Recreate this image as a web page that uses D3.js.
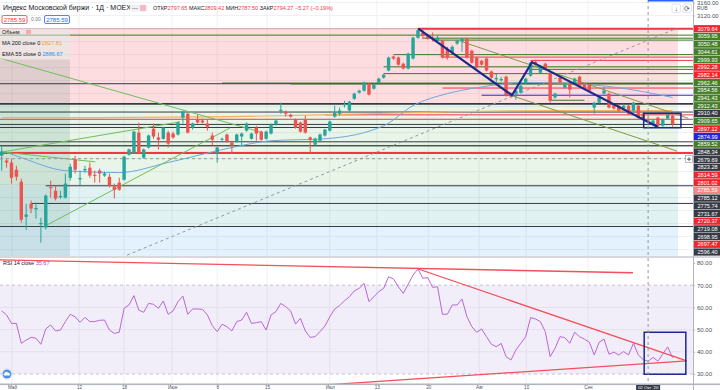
<!DOCTYPE html>
<html>
<head>
<meta charset="utf-8">
<script src="https://cdn.jsdelivr.net/npm/d3@7/dist/d3.min.js"></script>
<style>
  body { margin: 0; background: #fff; overflow: hidden; }
  svg { display: block; font-family: "Liberation Sans", Arial, sans-serif; }
</style>
</head>
<body>
<svg id="chart" width="720" height="390"></svg>
<script>
// ---- candles (daily, MOEX index) ----
const opens = [2689,2674,2668,2646,2609,2501,2541,2524,2478,2468,2592,2581,2561,2560,2621,2677,2616,2644,2652,2630,
  2643,2628,2624,2594,2606,2615,2692,2698,2760,2683,2714,2772,2745,2741,2760,2757,2754,2806,2818,2775,
  2800,2797,2788,2751,2698,2738,2754,2729,2732,2748,2766,2741,2775,2763,2741,2757,2785,2826,2824,2815,
  2800,2791,2800,2745,2723,2735,2751,2766,2809,2818,2844,2828,2864,2883,2889,2911,2895,2914,2929,2951,
  2994,2991,2972,2957,2988,3052,3068,3058,3050,3043,3043,3018,3006,3034,3040,3049,3012,2991,2981,2988,
  2948,2924,2921,2932,2880,2880,2883,2914,2935,2978,2944,2972,2944,2868,2929,2898,2911,2911,2932,2908,
  2908,2837,2852,2880,2880,2846,2843,2834,2843,2828,2843,2818,2797.65,2785,2806,2781,2803,2812];
const highs = [2720,2680,2680,2658,2618,2541,2551,2545,2498,2570,2612,2597,2581,2634,2664,2689,2643,2658,2668,2643,
  2649,2640,2634,2603,2621,2689,2711,2766,2791,2711,2754,2788,2760,2778,2766,2763,2794,2828,2821,2791,
  2815,2803,2800,2760,2717,2745,2757,2735,2757,2760,2791,2760,2781,2766,2766,2788,2800,2852,2828,2818,
  2803,2794,2812,2748,2745,2757,2772,2797,2843,2837,2858,2858,2883,2892,2917,2914,2911,2929,2941,2994,
  2997,2994,2975,3006,3055,3079.64,3077,3062,3068,3058,3046,3024,3028,3046,3052,3052,3015,2994,2984,2991,
  2951,2941,2932,2935,2883,2892,2908,2929,2978,2984,2969,2975,2948,2883,2935,2914,2914,2929,2935,2911,
  2911,2855,2871,2901,2883,2849,2846,2849,2846,2855,2846,2821,2809.42,2800,2809,2803,2818,2815];
const lows = [2643,2652,2603,2612,2483,2461,2512,2495,2421,2462,2560,2551,2557,2557,2612,2634,2597,2637,2621,2606,
  2606,2624,2591,2557,2581,2612,2689,2695,2695,2680,2711,2741,2708,2738,2714,2741,2751,2788,2757,2769,
  2788,2788,2766,2720,2668,2735,2729,2695,2729,2720,2763,2738,2735,2735,2738,2754,2781,2818,2809,2806,
  2772,2760,2757,2698,2720,2732,2748,2763,2806,2812,2837,2824,2861,2880,2886,2874,2892,2911,2926,2948,
  2984,2966,2954,2954,2985,3049,3049,3046,3040,3040,2988,2984,3003,3030,3009,2988,2972,2957,2966,2948,
  2926,2911,2917,2871,2867,2861,2880,2911,2932,2966,2941,2954,2852,2864,2911,2895,2868,2908,2901,2892,
  2886,2818,2849,2877,2834,2831,2824,2831,2815,2824,2803,2797,2787.50,2781,2778,2778,2800,2778];
const closes = [2701,2668,2621,2624,2492,2508,2526,2528,2482,2566,2589,2557,2565,2603,2655,2646,2620,2648,2628,2627,
  2634,2634,2597,2584,2584,2686,2708,2763,2698,2708,2751,2748,2738,2775,2726,2745,2791,2824,2760,2788,
  2791,2791,2778,2738,2714,2741,2732,2720,2754,2757,2788,2757,2757,2738,2763,2785,2797,2830,2818,2809,
  2775,2763,2760,2738,2741,2754,2769,2794,2821,2828,2848,2855,2880,2889,2914,2877,2908,2926,2938,2991,
  2988,2969,2957,3003,3052,3075,3058,3049,3047,3052,2991,2991,3024,3043,3049,2991,2975,2960,2969,2951,
  2929,2928,2925,2874,2871,2889,2904,2926,2975,2969,2966,2957,2858,2880,2914,2911,2892,2926,2904,2895,
  2889,2852,2868,2889,2837,2834,2828,2843,2818,2852,2806,2800,2794.27,2797,2781,2800,2815,2785.59];

// ---- moving averages, sampled at candle index ----
const ma200 = [[1,2806],[21,2806],[48,2809],[68,2815],[92,2824],[115,2828],[138,2828]];
const ema55 = [[1,2704],[5,2683],[14,2643],[25,2637],[35,2668],[48,2714],[56,2735],[67,2741],[79,2781],
  [85,2843],[92,2880],[98,2898],[108,2914],[117,2911],[127,2898],[132,2886],[138,2868]];

// ---- RSI 14 ----
const rsi = [58.4,56.6,52.8,52.8,43.8,45.3,46.5,46.1,43.4,50.3,52.1,49.4,49.8,53.6,56.9,55.8,53.3,55.5,53.6,53.6,
  54.2,54.3,49.8,48.3,48.8,59.6,61.1,65.3,58.8,57.8,61.8,61.4,59.6,62.9,56.9,58.4,62.6,65.1,56.9,59.3,
  59.3,59.1,56.6,51.8,49.1,52.4,51.3,49.4,53.6,54.3,57.8,52.8,53.1,53.6,49.8,56.6,58.1,61.8,60.3,58.4,
  52.5,55.1,49.4,46.5,46.8,49.1,51.6,55.8,59.3,60.8,63.0,64.8,67.4,68.6,
  70.8,62.6,64.8,67.1,68.6,73.8,72.8,69.3,66.3,70.4,74.6,77.3,73.1,73.4,69.0,69.3,56.9,56.9,61.1,61.1,
  63.8,55.8,51.3,48.8,50.3,46.8,43.4,42.3,43.8,37.8,36.3,40.8,43.8,46.8,55.4,54.8,53.6,49.1,37.8,41.6,
  46.8,46.4,43.8,48.8,46.8,45.7,44.3,38.6,44.3,45.7,38.9,39.8,38.6,40.1,38.6,43.8,38.6,36.5,35.7,37.5,
  35.8,39.0,42.2,37.3];

// ---- horizontal levels (price, kind, first candle) ----
const levelPrices = [3079.64,3059.95,3050.48,3044.61,2999.93,2992.28,2982.14,2962.46,2954.56,2941.43,
  2912.43,2910.40,2909.65,2897.12,2874.99,2859.52,2848.34,2823.28,2814.59,2801.02,
  2785.12,2775.74,2731.67,2720.37,2719.08,2698.95,2697.47,2596.40];
const levelKinds = ['r','g','g','g','g','r','r','g','g','g','g','d','g','r','b','g','d','d','r','r',
  'd','d','d','r','d','d','r','d'];
const levelStart = [86,1,87,89,81,91,109,79,109,79,46,1,60,91,99,113,1,1,67,1,1,1,1,1,1,1,1,10];
const extraLevels = [2542, 2471];          // rays without a price label
const lastPrice = 2785.59;
const crossPrice = 2679.69, crossIdx = 133;

// ---- zones of the retracement tool ----
const zoneTops = [3079.64, 2848.34, 2596.40, 2471];
const zoneBots = [2848.34, 2596.40, 2471, 2300];
const zoneEnd = 139.1;

// ---- drawn lines: [i1, p1, i2, p2] ----
const zigzag = [[86.07,3079.64],[105.2,2874.99],[109.3,2977],[135,2777]];
const olive = [[95,3039.7,141.2,2804],[105.4,2872.6,138.9,2703],[0.65,2989,53.8,2762],
  [1.3,2701,37.4,2793],[9.4,2469,47.6,2774],[0.65,2701,20.1,2670]];
const dashed = [26.6,2383,138.9,3081];
const box = [132.1,2819.4,139.7,2775];
const rsiLines = [[0.65,81.4,129.9,75.6],[86.07,77.3,140.9,35.9],[68,25.2,140.9,35.9]];
const rsiBox = [132.2,48.8,140.7,29.9];

// ---- time axis ----
const gridIdx = [3.1,16.8,26,35.8,45,55.2,68,77.6,88.1,98.5,108.1,120.7];
const timeLabels = ['Май','12','18','Июн','8','15','Июл','13','20','Авг','10','Сен'];

const W = 720, H = 390, axisX = 693;
const mainBot = 256, rsiTop = 258, rsiBot = 384;
const up = '#26a69a', down = '#ef5350';

const x = d3.scaleLinear().domain([1, 138]).range([1.7, 672.6]);
const y = d3.scaleLinear().domain([2380.3, 3168]).range([mainBot, 0]);
const yR = d3.scaleLinear().domain([30, 80]).range([374, 263]);

const svg = d3.select('#chart');
const defs = svg.append('defs');
defs.append('clipPath').attr('id', 'clipMain').append('rect')
  .attr('x', 0).attr('y', 0).attr('width', axisX).attr('height', mainBot);
defs.append('clipPath').attr('id', 'clipRsi').append('rect')
  .attr('x', 0).attr('y', rsiTop).attr('width', axisX).attr('height', rsiBot - rsiTop);

const gMain = svg.append('g').attr('clip-path', 'url(#clipMain)');
const gRsi = svg.append('g').attr('clip-path', 'url(#clipRsi)');

// grid
gMain.selectAll('.hg').data(d3.range(2400, 3200, 40)).join('line')
  .attr('x1', 0).attr('x2', axisX).attr('y1', d => y(d)).attr('y2', d => y(d))
  .attr('stroke', '#eef0f5');
[gMain, gRsi].forEach(g => g.selectAll('.vg').data(gridIdx).join('line')
  .attr('x1', d => x(d)).attr('x2', d => x(d)).attr('y1', 0).attr('y2', rsiBot)
  .attr('stroke', '#eef0f5'));

// zones
const zoneFill = ['rgba(242,54,69,0.17)', 'rgba(76,175,80,0.13)', 'rgba(0,150,136,0.12)', 'rgba(33,150,243,0.12)'];
gMain.selectAll('.zone').data(zoneTops).join('rect')
  .attr('x', 0).attr('width', x(zoneEnd))
  .attr('y', d => y(d)).attr('height', (d, k) => y(zoneBots[k]) - y(d))
  .attr('fill', (d, k) => zoneFill[k]);
gMain.append('line').attr('x1', 0).attr('x2', x(zoneEnd))
  .attr('y1', y(zoneTops[0])).attr('y2', y(zoneTops[0])).attr('stroke', '#d9a3a8');

// dark rectangle on the left
gMain.append('rect').attr('x', 0).attr('width', x(14.95))
  .attr('y', y(3079.64)).attr('height', mainBot - y(3079.64))
  .attr('fill', 'rgba(20,100,80,0.12)');

// horizontal levels
const lvlColor = { r: '#f23645', g: '#3b7a1f', d: '#363a45', b: '#2424e0' };
const levels = levelPrices.map((p, k) => ({ p, kind: levelKinds[k], s: levelStart[k], k }));
gMain.selectAll('.lvl').data(levels).join('line')
  .attr('x1', d => d.s <= 1 ? 0 : x(d.s)).attr('x2', d => d.p === 2859.52 ? x(120) : axisX)
  .attr('y1', d => y(d.p)).attr('y2', d => y(d.p))
  .attr('stroke', d => lvlColor[d.kind])
  .attr('stroke-width', d => (d.k === 0 || d.k === 26) ? 2 : (d.k === 16 ? 1.6 : 1));
gMain.selectAll('.xl').data(extraLevels).join('line')
  .attr('x1', (d, k) => k === 0 ? x(7) : 0).attr('x2', axisX)
  .attr('y1', d => y(d)).attr('y2', d => y(d)).attr('stroke', '#363a45');

// moving averages
const lineGen = d3.line().x(d => x(d[0])).y(d => y(d[1])).curve(d3.curveMonotoneX);
gMain.append('path').attr('d', lineGen(ma200)).attr('fill', 'none')
  .attr('stroke', '#f3b35e').attr('stroke-width', 1.2);
gMain.append('path').attr('d', lineGen(ema55)).attr('fill', 'none')
  .attr('stroke', '#6fa8dc').attr('stroke-width', 1);

// trend lines
gMain.append('line').attr('x1', x(dashed[0])).attr('y1', y(dashed[1]))
  .attr('x2', x(dashed[2])).attr('y2', y(dashed[3]))
  .attr('stroke', '#9598a1').attr('stroke-dasharray', '3,3');
gMain.selectAll('.ol').data(olive).join('line')
  .attr('x1', d => x(d[0])).attr('y1', d => y(d[1])).attr('x2', d => x(d[2])).attr('y2', d => y(d[3]))
  .attr('stroke', (d, k) => k < 2 ? '#7f9a4a' : '#6cbf5c').attr('stroke-width', 1);

// candles
const candles = opens.map((o, k) => ({ i: k + 1, o, h: highs[k], l: lows[k], c: closes[k] }));
const cg = gMain.append('g');
cg.selectAll('line').data(candles).join('line')
  .attr('x1', d => x(d.i)).attr('x2', d => x(d.i))
  .attr('y1', d => y(d.h)).attr('y2', d => y(d.l))
  .attr('stroke', d => d.c >= d.o ? up : down);
cg.selectAll('rect').data(candles).join('rect')
  .attr('x', d => x(d.i) - 1.7).attr('width', 3.4)
  .attr('y', d => y(Math.max(d.o, d.c)))
  .attr('height', d => Math.max(0.9, Math.abs(y(d.o) - y(d.c))))
  .attr('fill', d => d.c >= d.o ? up : down);

// zigzag and box
gMain.append('path')
  .attr('d', d3.line().x(d => x(d[0])).y(d => y(d[1]))(zigzag))
  .attr('fill', 'none').attr('stroke', '#1a2a8c').attr('stroke-width', 2.2);
gMain.append('rect').attr('x', x(box[0])).attr('y', y(box[1]))
  .attr('width', x(box[2]) - x(box[0])).attr('height', y(box[3]) - y(box[1]))
  .attr('fill', 'none').attr('stroke', '#1a2a8c').attr('stroke-width', 1.5);

// ---- RSI pane ----
gRsi.append('rect').attr('x', 0).attr('width', axisX)
  .attr('y', yR(70)).attr('height', yR(30) - yR(70)).attr('fill', 'rgba(126,87,194,0.1)');
gRsi.selectAll('.rg').data([60, 50, 40]).join('line')
  .attr('x1', 0).attr('x2', axisX).attr('y1', d => yR(d)).attr('y2', d => yR(d))
  .attr('stroke', '#e6def0');
gRsi.selectAll('.rb').data([70, 30]).join('line')
  .attr('x1', 0).attr('x2', axisX).attr('y1', d => yR(d)).attr('y2', d => yR(d))
  .attr('stroke', '#c9bcd6').attr('stroke-dasharray', '3,3');
gRsi.append('path')
  .attr('d', d3.line().x((d, k) => x(k + 1)).y(d => yR(d))(rsi))
  .attr('fill', 'none').attr('stroke', '#b867d4').attr('stroke-width', 1);
gRsi.selectAll('.rl').data(rsiLines).join('line')
  .attr('x1', d => x(d[0])).attr('y1', d => yR(d[1])).attr('x2', d => x(d[2])).attr('y2', d => yR(d[3]))
  .attr('stroke', '#f44f5a').attr('stroke-width', 1.3);
gRsi.append('rect').attr('x', x(rsiBox[0])).attr('y', yR(rsiBox[1]))
  .attr('width', x(rsiBox[2]) - x(rsiBox[0])).attr('height', yR(rsiBox[3]) - yR(rsiBox[1]))
  .attr('fill', 'none').attr('stroke', '#1a2a8c').attr('stroke-width', 1.5);

// cloud icon
const cloud = svg.append('g').attr('transform', `translate(7,${rsiBot - 10})`);
cloud.append('circle').attr('r', 5.5).attr('fill', '#fff').attr('stroke', '#d1d4dc').attr('stroke-width', 0.5);
cloud.append('circle').attr('r', 4.5).attr('fill', '#4a90e2');
cloud.append('path').attr('d', 'M-2.8,1.5 a1.3,1.3 0 0 1 0.3,-2.3 a1.8,1.8 0 0 1 3.4,-0.5 a1.4,1.4 0 0 1 1.9,1.4 a1,1 0 0 1 0,1.4 z')
  .attr('fill', '#fff');

// crosshair
svg.append('line').attr('x1', x(crossIdx)).attr('x2', x(crossIdx)).attr('y1', 0).attr('y2', rsiBot)
  .attr('stroke', '#9598a1').attr('stroke-dasharray', '3,3');
gMain.append('line').attr('x1', 0).attr('x2', axisX).attr('y1', y(crossPrice)).attr('y2', y(crossPrice))
  .attr('stroke', '#9598a1').attr('stroke-dasharray', '3,3');
svg.append('line').attr('x1', x(crossIdx)).attr('x2', axisX).attr('y1', 0.8).attr('y2', 0.8)
  .attr('stroke', '#2962ff').attr('stroke-width', 1.6);

// pane separators and price axis border
svg.append('rect').attr('x', 0).attr('y', mainBot).attr('width', W).attr('height', rsiTop - mainBot).attr('fill', '#d6d8de');
svg.append('rect').attr('x', 0).attr('y', rsiBot - 0.5).attr('width', W).attr('height', 1.6).attr('fill', '#b2b5be');
svg.append('line').attr('x1', axisX + 0.5).attr('x2', axisX + 0.5).attr('y1', 0).attr('y2', H).attr('stroke', '#b2b5be');

// ---- axes ----
const fmt = d3.format('.2f');
const pAxis = svg.append('g').attr('transform', `translate(${axisX},0)`)
  .call(d3.axisRight(y).tickValues([3160, 3120]).tickSize(2).tickFormat(fmt));
const rAxis = svg.append('g').attr('transform', `translate(${axisX},0)`)
  .call(d3.axisRight(yR).tickValues([30, 40, 50, 60, 70, 80]).tickSize(2).tickFormat(fmt));
const tAxis = svg.append('g').attr('transform', `translate(0,${rsiBot + 1})`)
  .call(d3.axisBottom(x).tickValues(gridIdx).tickSize(0).tickFormat((d, k) => timeLabels[k]));
[pAxis, rAxis, tAxis].forEach(a => {
  a.select('.domain').remove();
  a.selectAll('text').attr('fill', '#50535e').attr('font-size', 6)
    .attr('font-family', '"Liberation Sans", Arial, sans-serif');
  a.selectAll('line').attr('stroke', '#b2b5be');
});
pAxis.selectAll('text').attr('x', 4);
rAxis.selectAll('text').attr('x', 4);
tAxis.selectAll('text').attr('font-size', 4.6).attr('y', 4.2).attr('dy', 0);
svg.append('text').attr('x', 697).attr('y', 10.2).attr('font-size', 5).attr('fill', '#50535e').text('RUB');

// stacked price labels
const labelColor = { r: '#f0262f', g: '#457d28', d: '#363a45', b: '#2424e0', cur: '#f7868a', x: '#363a45' };
const tags = levels.map(d => ({ p: d.p, kind: d.kind }));
tags.push({ p: lastPrice, kind: 'cur' });
tags.sort((a, b) => b.p - a.p);
const step = 7.7, crossY = y(crossPrice);
let prev = -Infinity, crossDone = false;
const placed = [];
tags.forEach(t => {
  if (!crossDone && prev + step >= crossY - step / 2) {
    prev = prev + step;
    placed.push({ p: crossPrice, kind: 'x', pos: prev });
    crossDone = true;
  }
  t.pos = Math.max(y(t.p), prev + step);
  prev = t.pos;
  placed.push(t);
});
const tg = svg.append('g').selectAll('g').data(placed).join('g')
  .attr('transform', d => `translate(${axisX + 1},${d.pos})`);
tg.append('rect').attr('x', 0).attr('y', -3.6).attr('width', W - axisX - 1).attr('height', 7.2)
  .attr('fill', d => labelColor[d.kind]);
tg.append('text').attr('x', 3.5).attr('y', 2).attr('font-size', 5.6).attr('fill', '#fff').text(d => fmt(d.p));
// crosshair "+" button
const plus = svg.append('g').attr('transform', `translate(${axisX - 7.5},${crossY + 0.5 - 3.5})`);
plus.append('rect').attr('width', 7).attr('height', 7).attr('fill', '#fff').attr('stroke', '#9598a1').attr('stroke-width', 0.6);
plus.append('path').attr('d', 'M3.5,1.5V5.5M1.5,3.5H5.5').attr('stroke', '#363a45').attr('stroke-width', 0.8);
// crosshair time tag
svg.append('rect').attr('x', x(crossIdx) - 12).attr('y', rsiBot + 1).attr('width', 24).attr('height', 5).attr('fill', '#363a45');
svg.append('text').attr('x', x(crossIdx)).attr('y', rsiBot + 5.2).attr('text-anchor', 'middle')
  .attr('font-size', 4.4).attr('fill', '#fff').text('02 Окт \'20');

// ---- header and legend ----
svg.append('text').attr('x', 3).attr('y', 9.5).attr('font-size', 7).attr('fill', '#131722')
  .text('Индекс Московской биржи · 1Д · MOEX');
svg.append('rect').attr('x', 130).attr('y', 4.5).attr('width', 17).attr('height', 7).attr('rx', 1).attr('fill', '#eef0f4');
svg.append('text').attr('x', 132).attr('y', 10).attr('font-size', 6).attr('fill', '#50535e').text('—');
svg.append('rect').attr('x', 140).attr('y', 5).attr('width', 6).attr('height', 6).attr('rx', 1).attr('fill', '#f7b7c3');
const ohlc = svg.append('text').attr('x', 153).attr('y', 9.5).attr('font-size', 5.5);
[['ОТКР', '2797.65'], ['МАКС', '2809.42'], ['МИН', '2787.50'], ['ЗАКР', '2794.27']].forEach(([k, v]) => {
  ohlc.append('tspan').attr('fill', '#131722').text(k);
  ohlc.append('tspan').attr('fill', '#f23645').text(v + ' ');
});
ohlc.append('tspan').attr('fill', '#f23645').text('−5.27 (−0.19%)');

svg.append('rect').attr('x', 2).attr('y', 15.5).attr('width', 25).attr('height', 8).attr('rx', 1.5)
  .attr('fill', '#fff').attr('stroke', '#f23645').attr('stroke-width', 0.8);
svg.append('text').attr('x', 14.5).attr('y', 21.6).attr('text-anchor', 'middle').attr('font-size', 6)
  .attr('fill', '#f23645').text(fmt(lastPrice));
svg.append('text').attr('x', 31).attr('y', 21.4).attr('font-size', 5).attr('fill', '#787b86').text('0.00');
svg.append('rect').attr('x', 44.5).attr('y', 15.5).attr('width', 25).attr('height', 8).attr('rx', 1.5)
  .attr('fill', '#fff').attr('stroke', '#2962ff').attr('stroke-width', 0.8);
svg.append('text').attr('x', 57).attr('y', 21.6).attr('text-anchor', 'middle').attr('font-size', 6)
  .attr('fill', '#2962ff').text(fmt(lastPrice));

svg.append('rect').attr('x', 0).attr('y', 28.5).attr('width', 70).attr('height', 31).attr('fill', 'rgba(255,255,255,0.45)');
svg.append('text').attr('x', 2).attr('y', 33.8).attr('font-size', 5.5).attr('fill', '#131722').text('Объем');
svg.append('rect').attr('x', 26).attr('y', 29.8).attr('width', 5).attr('height', 4.5).attr('rx', 1).attr('fill', '#f7a8b1');
const legend = [['MA 200 close 0 ', '2827.81', '#f59d2a', 44.5], ['EMA 55 close 0 ', '2886.67', '#2196f3', 55.5]];
legend.forEach(([k, v, c, yy]) => {
  const t = svg.append('text').attr('x', 2).attr('y', yy).attr('font-size', 5.6);
  t.append('tspan').attr('fill', '#131722').text(k);
  t.append('tspan').attr('fill', c).text(v);
});
const rl = svg.append('text').attr('x', 3).attr('y', 264.5).attr('font-size', 5.5);
rl.append('tspan').attr('fill', '#131722').text('RSI 14 close ');
rl.append('tspan').attr('fill', '#ab47bc').text('35.67');

// top-right buttons
[[672, '↓'], [683, '⟳']].forEach(([bx, s]) => {
  svg.append('rect').attr('x', bx).attr('y', 4).attr('width', 8.5).attr('height', 8.5).attr('rx', 1.5)
    .attr('fill', '#fff').attr('stroke', '#d1d4dc').attr('stroke-width', 0.6);
  svg.append('text').attr('x', bx + 4.25).attr('y', 10.7).attr('text-anchor', 'middle').attr('font-size', 6.5)
    .attr('fill', '#50535e').text(s);
});
</script>
</body>
</html>
